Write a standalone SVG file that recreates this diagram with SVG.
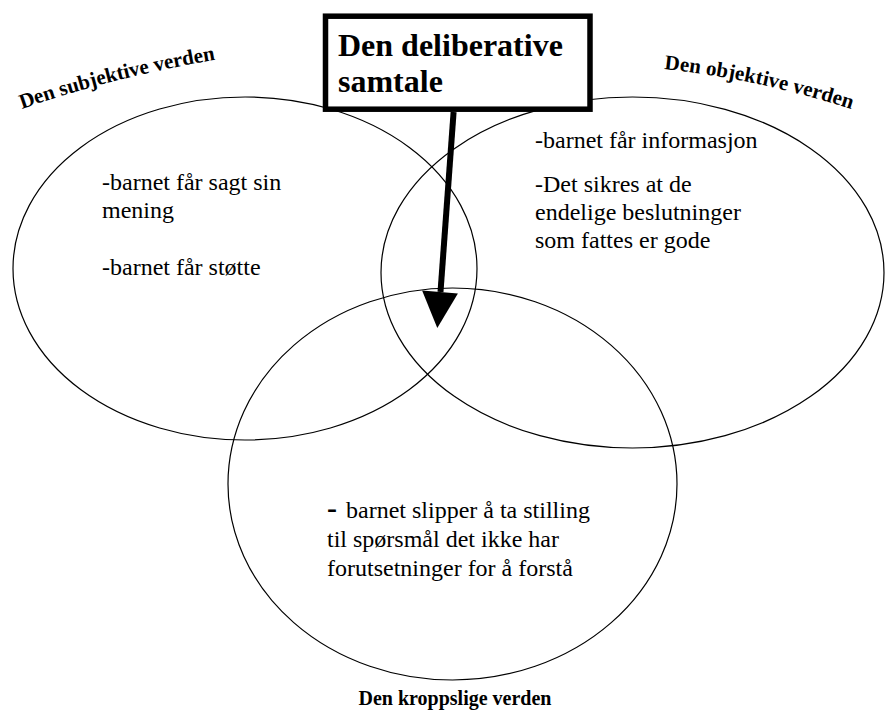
<svg xmlns="http://www.w3.org/2000/svg" width="885" height="711" viewBox="0 0 885 711" font-family="'Liberation Serif', 'Times New Roman', serif">
<style>
.ell{fill:none;stroke:#000;stroke-width:1.2}
.txt{font-family:'Liberation Serif','Times New Roman',serif;font-size:24px;fill:#000}
.lbl{font-family:'Liberation Serif','Times New Roman',serif;font-size:20px;font-weight:bold;fill:#000}
.arc{font-size:21px}
.ttl{font-family:'Liberation Serif','Times New Roman',serif;font-size:32px;font-weight:bold;fill:#000}
</style>
<defs>
<path id="arcSub" d="M22,109 Q115,76 226,58"/>
<path id="arcObj" d="M664,69 Q765,80 860,112"/>
</defs>
<rect width="885" height="711" fill="#fff"/>
<g id="subjektive">
<ellipse class="ell" cx="245" cy="268.5" rx="232" ry="171.5"/>
<text class="lbl arc"><textPath href="#arcSub" textLength="200" lengthAdjust="spacing">Den subjektive verden</textPath></text>
<text class="txt" x="102" y="190">-barnet får sagt sin</text>
<text class="txt" x="102" y="218">mening</text>
<text class="txt" x="102" y="275">-barnet får støtte</text>
</g>
<g id="objektive">
<ellipse class="ell" cx="632.5" cy="272.5" rx="251.5" ry="175.5"/>
<text class="lbl arc"><textPath href="#arcObj" textLength="192" lengthAdjust="spacing">Den objektive verden</textPath></text>
<text class="txt" x="535" y="148">-barnet får informasjon</text>
<text class="txt" x="535" y="192">-Det sikres at de</text>
<text class="txt" x="535" y="220">endelige beslutninger</text>
<text class="txt" x="535" y="248">som fattes er gode</text>
</g>
<g id="kroppslige">
<ellipse class="ell" cx="452.5" cy="484" rx="224.5" ry="196"/>
<text class="txt" x="327" y="518"><tspan font-size="30" font-weight="bold">-</tspan><tspan x="346">barnet slipper å ta stilling</tspan></text>
<text class="txt" x="327" y="547">til spørsmål det ikke har</text>
<text class="txt" x="327" y="576">forutsetninger for å forstå</text>
<text class="lbl" x="455" y="705" text-anchor="middle">Den kroppslige verden</text>
</g>
<g id="deliberative">
<rect x="325.5" y="16.2" width="264.5" height="93" fill="#fff" stroke="#000" stroke-width="5.5"/>
<text class="ttl" x="338" y="56">Den deliberative</text>
<text class="ttl" x="338" y="92">samtale</text>
</g>
<g id="connectors">
<line x1="453.6" y1="112" x2="440.5" y2="292" stroke="#000" stroke-width="6"/>
<polygon points="422.1,290.6 457.9,293.4 437.3,328" fill="#000"/>
</g>
</svg>
